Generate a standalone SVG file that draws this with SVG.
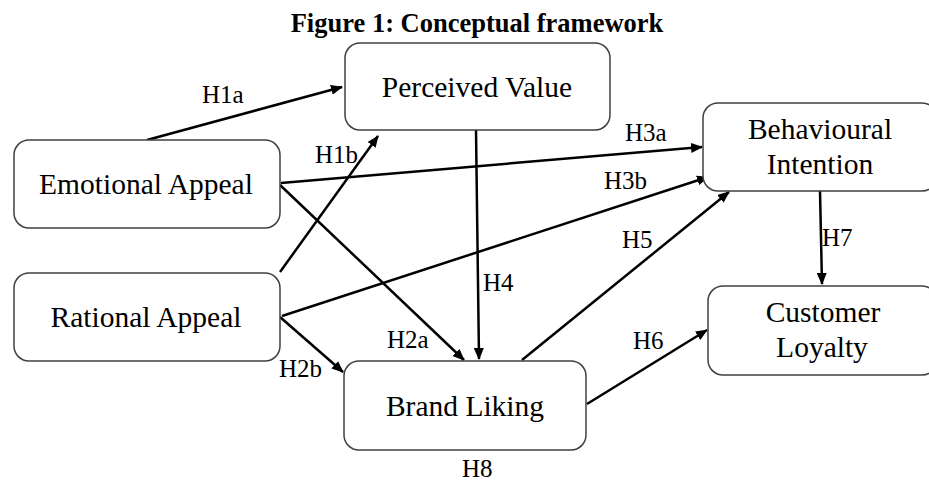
<svg xmlns="http://www.w3.org/2000/svg" width="929" height="481" viewBox="0 0 929 481">
<style>
.box{fill:#fff;stroke:#404040;stroke-width:1.5}
.t{font-family:"Liberation Serif","Times New Roman",serif;font-size:29.5px;fill:#000;text-anchor:middle}
.lbl{font-family:"Liberation Serif","Times New Roman",serif;font-size:25px;fill:#000}
.title{font-family:"Liberation Serif","Times New Roman",serif;font-size:26.5px;font-weight:bold;fill:#000;text-anchor:middle}
.c{stroke:#000;stroke-width:2.5;fill:none;marker-end:url(#ah)}
</style>
<defs>
<marker id="ah" markerUnits="userSpaceOnUse" markerWidth="12" markerHeight="10" refX="11" refY="5" orient="auto">
<path d="M0,0 L12,5 L0,10 Z" fill="#000"/>
</marker>
</defs>
<rect width="929" height="481" fill="#fff"/>
<text class="title" x="477" y="32">Figure 1: Conceptual framework</text>
<g id="connectors">
<line class="c" x1="147" y1="140" x2="342" y2="87"/>
<line class="c" x1="280" y1="272" x2="378" y2="136"/>
<line class="c" x1="281" y1="183" x2="702" y2="147"/>
<line class="c" x1="282" y1="316" x2="708" y2="177"/>
<line class="c" x1="280" y1="185" x2="464" y2="360"/>
<line class="c" x1="280" y1="317" x2="343" y2="372"/>
<line class="c" x1="476" y1="130" x2="479" y2="359"/>
<line class="c" x1="522" y1="360" x2="729" y2="192"/>
<line class="c" x1="587" y1="404" x2="707" y2="330"/>
<line class="c" x1="820" y1="191" x2="822" y2="284"/>
</g>
<g id="labels">
<text class="lbl" x="202" y="103">H1a</text>
<text class="lbl" x="315" y="163">H1b</text>
<text class="lbl" x="625" y="141">H3a</text>
<text class="lbl" x="604" y="189">H3b</text>
<text class="lbl" x="387" y="348">H2a</text>
<text class="lbl" x="279" y="377">H2b</text>
<text class="lbl" x="483" y="291">H4</text>
<text class="lbl" x="622" y="248">H5</text>
<text class="lbl" x="633" y="349">H6</text>
<text class="lbl" x="822" y="246">H7</text>
<text class="lbl" x="462" y="477">H8</text>
</g>
<g id="perceived-value">
<rect class="box" x="345" y="43" width="265" height="87" rx="15"/>
<text class="t" x="477" y="97">Perceived Value</text>
</g>
<g id="emotional-appeal">
<rect class="box" x="14" y="140" width="266" height="88" rx="15"/>
<text class="t" x="146" y="194">Emotional Appeal</text>
</g>
<g id="rational-appeal">
<rect class="box" x="14" y="273" width="266" height="88" rx="15"/>
<text class="t" x="146" y="327">Rational Appeal</text>
</g>
<g id="behavioural-intention">
<rect class="box" x="703" y="103" width="234" height="88" rx="15"/>
<text class="t" x="820" y="139">Behavioural</text>
<text class="t" x="820" y="174">Intention</text>
</g>
<g id="customer-loyalty">
<rect class="box" x="708" y="286" width="229" height="89" rx="15"/>
<text class="t" x="823" y="322">Customer</text>
<text class="t" x="822" y="357">Loyalty</text>
</g>
<g id="brand-liking">
<rect class="box" x="344" y="361" width="242" height="89" rx="15"/>
<text class="t" x="465" y="416">Brand Liking</text>
</g>
</svg>
